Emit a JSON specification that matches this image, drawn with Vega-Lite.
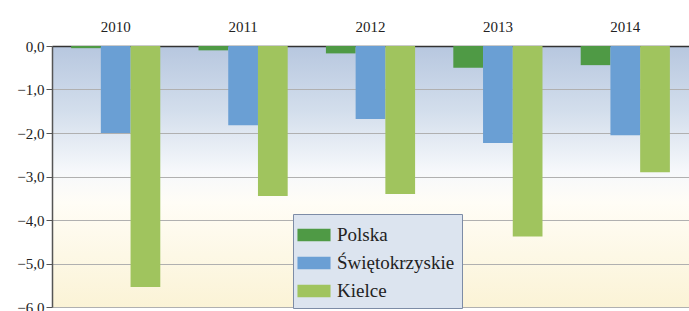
{
  "$schema": "https://vega.github.io/schema/vega-lite/v6.json",
  "width": 637,
  "height": 261,
  "autosize": {"type": "none"},
  "padding": {"left": 52, "top": 46, "right": 0, "bottom": 4},
  "background": "white",
  "config": {
    "font": "Liberation Serif",
    "view": {
      "stroke": null,
      "fill": {
        "gradient": "linear", "x1": 0, "y1": 0, "x2": 0, "y2": 1,
        "stops": [
          {"offset": 0, "color": "#b7c7df"},
          {"offset": 0.25, "color": "#d3deec"},
          {"offset": 0.48, "color": "#f6f8fb"},
          {"offset": 0.6, "color": "#fffdf6"},
          {"offset": 1, "color": "#fbf3d6"}
        ]
      }
    }
  },
  "data": {
    "values": [
      {"rok": "2010", "obszar": "Polska", "wartosc": -0.05},
      {"rok": "2010", "obszar": "Świętokrzyskie", "wartosc": -2.0},
      {"rok": "2010", "obszar": "Kielce", "wartosc": -5.54},
      {"rok": "2011", "obszar": "Polska", "wartosc": -0.1},
      {"rok": "2011", "obszar": "Świętokrzyskie", "wartosc": -1.82},
      {"rok": "2011", "obszar": "Kielce", "wartosc": -3.45},
      {"rok": "2012", "obszar": "Polska", "wartosc": -0.17},
      {"rok": "2012", "obszar": "Świętokrzyskie", "wartosc": -1.68},
      {"rok": "2012", "obszar": "Kielce", "wartosc": -3.4},
      {"rok": "2013", "obszar": "Polska", "wartosc": -0.5},
      {"rok": "2013", "obszar": "Świętokrzyskie", "wartosc": -2.23},
      {"rok": "2013", "obszar": "Kielce", "wartosc": -4.38},
      {"rok": "2014", "obszar": "Polska", "wartosc": -0.44},
      {"rok": "2014", "obszar": "Świętokrzyskie", "wartosc": -2.05},
      {"rok": "2014", "obszar": "Kielce", "wartosc": -2.9}
    ]
  },
  "mark": {"type": "bar"},
  "encoding": {
    "x": {
      "field": "rok", "type": "nominal",
      "scale": {"paddingInner": 0.3, "paddingOuter": 0.15},
      "axis": {
        "orient": "top", "title": null, "labelAngle": 0,
        "ticks": false, "labelPadding": 12, "labelFontSize": 15,
        "labelFont": "Liberation Serif, DejaVu Serif, serif",
        "labelColor": "#222", "domainColor": "#333", "domainWidth": 1.5,
        "grid": false
      }
    },
    "xOffset": {
      "field": "obszar", "type": "nominal",
      "sort": ["Polska", "Świętokrzyskie", "Kielce"]
    },
    "y": {
      "field": "wartosc", "type": "quantitative",
      "scale": {"domain": [-6, 0], "nice": false},
      "axis": {
        "title": null, "values": [0, -1, -2, -3, -4, -5, -6],
        "labelExpr": "replace(format(datum.value, '.1f'), '.', ',')",
        "labelFont": "Liberation Serif, DejaVu Serif, serif",
        "labelFontSize": 15, "labelColor": "#222",
        "tickSize": 6, "tickColor": "#555", "labelPadding": 2,
        "domainColor": "#555", "domainWidth": 1.5,
        "gridColor": "#b0b0b0", "gridWidth": 1
      }
    },
    "color": {
      "field": "obszar", "type": "nominal",
      "sort": ["Polska", "Świętokrzyskie", "Kielce"],
      "scale": {"range": ["#4f9a45", "#6a9fd4", "#a0c45e"]},
      "legend": {
        "title": null, "orient": "none", "legendX": 241, "legendY": 168,
        "symbolType": "M-1.2,-0.46H1.2V0.46H-1.2Z", "symbolSize": 760,
        "symbolStrokeWidth": 0, "symbolOpacity": 1,
        "labelFont": "Liberation Serif, DejaVu Serif, serif",
        "labelFontSize": 19, "labelColor": "#222", "labelOffset": 9,
        "rowPadding": 4, "padding": 7,
        "fillColor": "#dce4ef", "strokeColor": "#7d8ca6",
        "labelLimit": 300
      }
    }
  }
}
